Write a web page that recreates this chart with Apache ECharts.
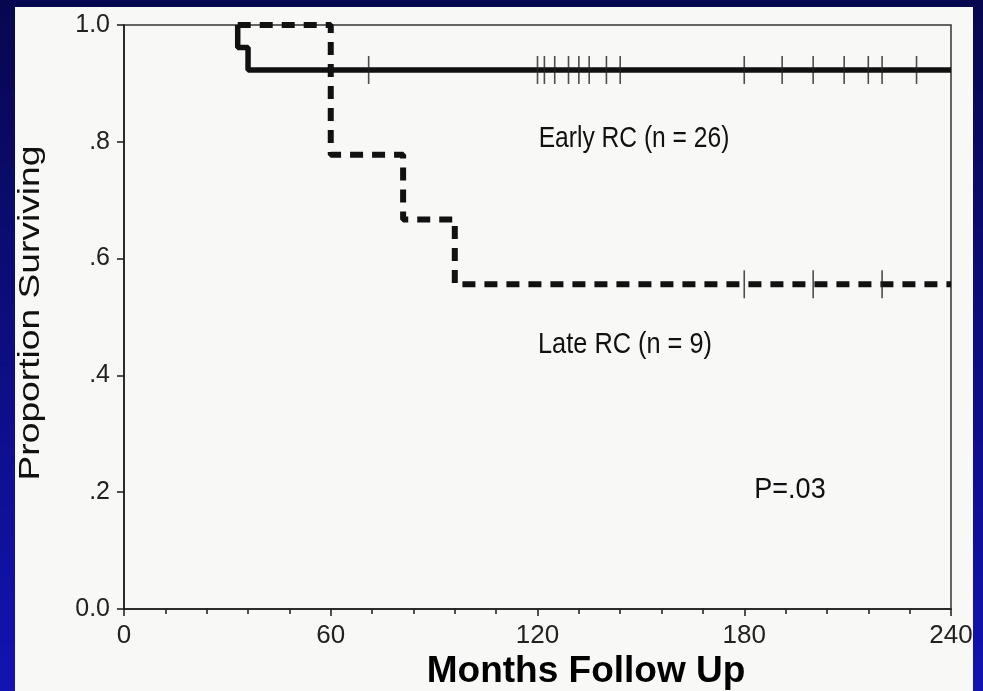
<!DOCTYPE html>
<html>
<head>
<meta charset="utf-8">
<title>Proportion Surviving</title>
<script src="https://cdn.jsdelivr.net/npm/echarts@6/dist/echarts.min.js"></script>
<style>
  html, body { margin: 0; padding: 0; }
  #chart { width: 983px; height: 691px; }
</style>
</head>
<body>
<div id="chart"></div>
<script>
// Kaplan-Meier steps: [month, proportion surviving]
var earlySteps = [[33, 1.0], [33, 0.9615], [36, 0.923], [240, 0.923]];
var lateSteps = [[33, 1.0], [60, 0.778], [81, 0.667], [96, 0.556], [240, 0.556]];
// censored observations (months)
var earlyCensored = [71, 120, 122, 125, 129, 132, 135, 140, 144, 180, 191, 200, 209, 216, 220, 230];
var earlyCensorLevel = 0.923;
var lateCensored = [180, 200, 220];
var lateCensorLevel = 0.556;

var yTickLabels = ['0.0', '.2', '.4', '.6', '.8', '1.0'];
var xTickLabels = ['0', '60', '120', '180', '240'];

var font = "'Liberation Sans', Arial, sans-serif";
var ink = '#1a1a1a';

var chart = echarts.init(document.getElementById('chart'));

// scanned-figure text is a bit tall and narrow, so squeeze it sideways
function scanText(text, x, y, size, squeeze) {
  return {
    type: 'text',
    x: x, y: y,
    scaleX: squeeze,
    z: 10,
    style: {
      text: text,
      x: 0, y: 0,
      fontSize: size,
      fontFamily: font,
      fill: '#111',
      align: 'center',
      verticalAlign: 'middle'
    }
  };
}

var option = {
  animation: false,
  grid: {
    left: 124,
    right: 32,
    top: 25,
    bottom: 82,
    show: true,
    borderColor: '#333',
    borderWidth: 1.5
  },
  xAxis: {
    type: 'value',
    min: 0,
    max: 240,
    interval: 60,
    splitLine: { show: false },
    axisLine: { lineStyle: { color: ink, width: 1.5 } },
    axisTick: { length: 7, lineStyle: { color: ink, width: 1.5 } },
    minorTick: { show: true, splitNumber: 5, length: 5, lineStyle: { color: ink, width: 1.5 } },
    axisLabel: {
      margin: 14,
      fontSize: 26,
      fontFamily: font,
      color: '#222',
      formatter: function (v) { return xTickLabels[Math.round(v / 60)]; }
    }
  },
  yAxis: {
    type: 'value',
    min: 0,
    max: 1,
    interval: 0.2,
    splitLine: { show: false },
    axisLine: { lineStyle: { color: ink, width: 1.5 } },
    axisTick: { length: 7, lineStyle: { color: ink, width: 1.5 } },
    axisLabel: {
      margin: 14,
      fontSize: 25,
      fontFamily: font,
      color: '#222',
      formatter: function (v) { return yTickLabels[Math.round(v / 0.2)]; }
    }
  },
  series: [
    {
      name: 'Early RC',
      type: 'line',
      step: 'end',
      symbol: 'none',
      data: earlySteps,
      lineStyle: { color: '#111', width: 5.5 },
      z: 3
    },
    {
      name: 'Late RC',
      type: 'line',
      step: 'end',
      symbol: 'none',
      data: lateSteps,
      lineStyle: { color: '#111', width: 6, type: [13, 9] },
      z: 3
    },
    {
      name: 'Early censored',
      type: 'scatter',
      symbol: 'rect',
      symbolSize: [1.6, 28],
      itemStyle: { color: '#222' },
      data: earlyCensored.map(function (t) { return [t, earlyCensorLevel]; }),
      z: 4
    },
    {
      name: 'Late censored',
      type: 'scatter',
      symbol: 'rect',
      symbolSize: [1.6, 28],
      itemStyle: { color: '#222' },
      data: lateCensored.map(function (t) { return [t, lateCensorLevel]; }),
      z: 4
    }
  ],
  graphic: [
    {
      type: 'rect',
      z: -10,
      silent: true,
      shape: { x: 0, y: 0, width: 983, height: 691 },
      style: {
        fill: {
          type: 'linear', x: 0, y: 0, x2: 0, y2: 1,
          colorStops: [{ offset: 0, color: '#07074f' }, { offset: 1, color: '#1313b2' }]
        }
      }
    },
    {
      type: 'rect',
      z: -9,
      silent: true,
      shape: { x: 15, y: 7, width: 958, height: 684 },
      style: { fill: '#f8f8f6' }
    },
    {
      type: 'text',
      x: 31, y: 313,
      rotation: Math.PI / 2,
      scaleX: 1.24,
      z: 10,
      style: {
        text: 'Proportion Surviving',
        x: 0, y: 0,
        fontSize: 30,
        fontFamily: font,
        fill: '#111',
        align: 'center',
        verticalAlign: 'middle'
      }
    },
    scanText('Early RC (n = 26)', 634, 139, 30, 0.82),
    scanText('Late RC (n = 9)', 625, 345, 30, 0.845),
    scanText('P=.03', 790, 490, 30, 0.9),
    {
      type: 'text',
      x: 586, y: 672,
      z: 10,
      style: {
        text: 'Months Follow Up',
        x: 0, y: 0,
        fontSize: 37,
        fontWeight: 'bold',
        fontFamily: font,
        fill: '#000',
        align: 'center',
        verticalAlign: 'middle'
      }
    }
  ]
};

chart.setOption(option);
</script>
</body>
</html>
